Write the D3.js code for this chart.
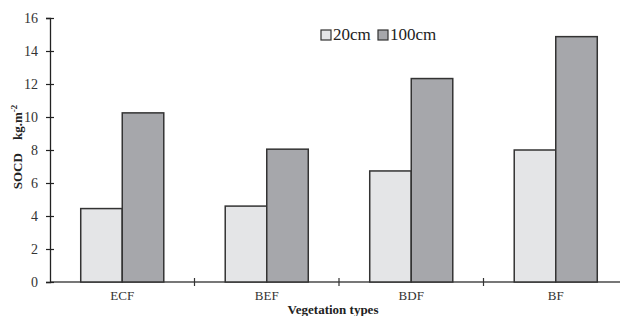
<!DOCTYPE html>
<html>
<head>
<meta charset="utf-8">
<script src="https://cdn.jsdelivr.net/npm/d3@7"></script>
<style>
  body { margin: 0; background: #fff; }
  text { font-family: "Liberation Serif", "DejaVu Serif", serif; }
</style>
</head>
<body>
<script>
// categories + series
var categories = ["ECF", "BEF", "BDF", "BF"];
var series = ["20cm", "100cm"];
var values20 = [4.45, 4.6, 6.73, 8.0];
var values100 = [10.25, 8.05, 12.33, 14.87];
var yTicks = [0, 2, 4, 6, 8, 10, 12, 14, 16];

var colors = { "20cm": "#e4e5e7", "100cm": "#a6a7ab" };

var w = 620, h = 316;

var svg = d3.select("body").append("svg")
    .attr("width", w)
    .attr("height", h);

// scales
var x0 = d3.scaleBand()
    .domain(categories)
    .range([50, 628])
    .padding(0);

var x1 = d3.scaleBand()
    .domain(series)
    .range([0, x0.bandwidth()])
    .paddingInner(0)
    .paddingOuter(0.74);

var y = d3.scaleLinear()
    .domain([0, 16])
    .range([282, 18]);

// rows for bars
var rows = categories.map(function(c, i){
    return { cat: c, vals: [
        { s: "20cm", v: values20[i] },
        { s: "100cm", v: values100[i] }
    ]};
});

// x axis line (runs to right edge)
svg.append("line")
    .attr("x1", 50).attr("x2", w)
    .attr("y1", y(0)).attr("y2", y(0))
    .style("stroke", "#777")
    .style("stroke-width", 2);

// bars
var groups = svg.selectAll(".grp")
    .data(rows)
    .enter()
    .append("g")
    .attr("class", "grp")
    .attr("transform", function(d){ return "translate(" + x0(d.cat) + ",0)"; });

groups.selectAll("rect")
    .data(function(d){ return d.vals; })
    .enter()
    .append("rect")
    .attr("x", function(d){ return x1(d.s); })
    .attr("width", x1.bandwidth())
    .attr("y", function(d){ return y(d.v); })
    .attr("height", function(d){ return y(0) - y(d.v); })
    .style("fill", function(d){ return colors[d.s]; })
    .style("stroke", "#333")
    .style("stroke-width", 1.5);

// category separators
svg.selectAll(".sep")
    .data(categories.slice(1))
    .enter()
    .append("line")
    .attr("class", "sep")
    .attr("x1", function(d){ return x0(d); })
    .attr("x2", function(d){ return x0(d); })
    .attr("y1", y(0) - 4)
    .attr("y2", y(0) + 4)
    .style("stroke", "#333")
    .style("stroke-width", 1.2);

// category labels
svg.selectAll(".catLabel")
    .data(categories)
    .enter()
    .append("text")
    .attr("class", "catLabel")
    .attr("x", function(d){ return x0(d) + x0.bandwidth() / 2; })
    .attr("y", 300)
    .attr("text-anchor", "middle")
    .style("font-size", "13px")
    .style("fill", "#333")
    .text(function(d){ return d; });

// y axis
var yAxis = d3.axisLeft(y)
    .tickValues(yTicks)
    .tickSize(4)
    .tickPadding(8);

var ya = svg.append("g")
    .attr("transform", "translate(50,0)")
    .call(yAxis);

ya.select(".domain").style("stroke", "#222").style("stroke-width", 1.3);
ya.selectAll(".tick line")
    .attr("x1", -4).attr("x2", 4)
    .style("stroke", "#222").style("stroke-width", 1.2);
ya.selectAll(".tick text")
    .style("font-family", "Liberation Serif, serif")
    .style("font-size", "14px")
    .style("fill", "#333");

// axis titles
svg.append("text")
    .attr("x", 333)
    .attr("y", 314)
    .attr("text-anchor", "middle")
    .style("font-size", "13px")
    .style("font-weight", "bold")
    .style("fill", "#222")
    .text("Vegetation types");

var yt = svg.append("text")
    .attr("transform", "translate(22,147) rotate(-90)")
    .attr("text-anchor", "middle")
    .style("font-size", "13px")
    .style("font-weight", "bold")
    .style("fill", "#222");
yt.append("tspan").text("SOCD\u00a0\u00a0\u00a0\u00a0kg.m");
yt.append("tspan").attr("dy", -5).style("font-size", "9px").text("-2");

// legend
var legend = svg.selectAll(".legend")
    .data(series)
    .enter()
    .append("g")
    .attr("class", "legend")
    .attr("transform", function(d, i){ return "translate(" + (321 + i * 57) + ",30)"; });

legend.append("rect")
    .attr("width", 10).attr("height", 10)
    .style("fill", function(d){ return colors[d]; })
    .style("stroke", "#333")
    .style("stroke-width", 1.2);

legend.append("text")
    .attr("x", 12)
    .attr("y", 10)
    .style("font-size", "17px")
    .style("fill", "#222")
    .text(function(d){ return d; });
</script>
</body>
</html>
